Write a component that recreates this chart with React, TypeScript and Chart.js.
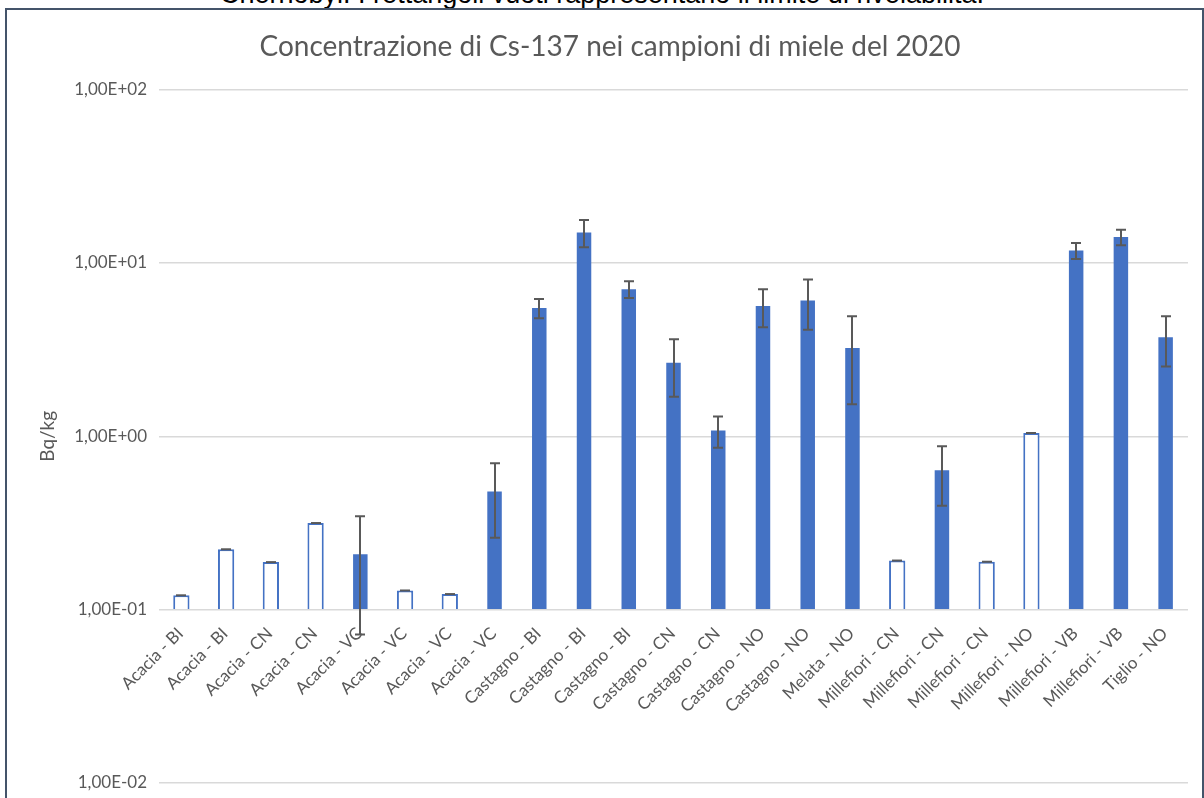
import React, { useEffect, useRef } from "react";
import { Chart, registerables } from "chart.js";

Chart.register(...registerables);

// Honey samples (type - province)
const categories = [
  "Acacia - BI", "Acacia - BI", "Acacia - CN", "Acacia - CN",
  "Acacia - VC", "Acacia - VC", "Acacia - VC", "Acacia - VC",
  "Castagno - BI", "Castagno - BI", "Castagno - BI",
  "Castagno - CN", "Castagno - CN", "Castagno - NO", "Castagno - NO",
  "Melata - NO",
  "Millefiori - CN", "Millefiori - CN", "Millefiori - CN", "Millefiori - NO",
  "Millefiori - VB", "Millefiori - VB", "Tiglio - NO",
];

// Cs-137 concentration, Bq/kg
const values = [
  0.121, 0.223, 0.188, 0.316,
  0.209, 0.129, 0.123, 0.48,
  5.5, 15.0, 7.05,
  2.66, 1.08, 5.65, 6.07,
  3.23,
  0.192, 0.637, 0.189, 1.045,
  11.8, 14.1, 3.73,
];

// Measurement uncertainty (0 where only the detection limit is given)
const errors = [
  0, 0, 0, 0,
  0.137, 0, 0, 0.22,
  0.7, 2.7, 0.78,
  0.97, 0.22, 1.4, 1.95,
  1.7,
  0, 0.24, 0, 0,
  1.25, 1.45, 1.2,
];

// true = value below detection limit (drawn as empty bar)
const belowLimit = [
  true, true, true, true,
  false, true, true, false,
  false, false, false,
  false, false, false, false,
  false,
  true, false, true, true,
  false, false, false,
];

const yTickValues = [0.01, 0.1, 1, 10, 100];
const yTickLabels = ["1,00E-02", "1,00E-01", "1,00E+00", "1,00E+01", "1,00E+02"];
const AXIS_CROSS = 0.1;

const TITLE = "Concentrazione di Cs-137 nei campioni di miele del 2020";
const Y_TITLE = "Bq/kg";
const CAPTION = "Chernobyl. I rettangoli vuoti rappresentano il limite di rivelabilità.";

const BLUE = "#4472C4";
const TEXT = "#595959";
const FONT = "Lato, 'Open Sans', sans-serif";

// Category labels hang below the 0.1 line, where the horizontal axis crosses
const categoryLabelsPlugin = {
  id: "categoryLabels",
  beforeDatasetsDraw(chart: any) {
    const { ctx, scales } = chart;
    const xs = scales.x;
    const axisY = scales.y.getPixelForValue(AXIS_CROSS);
    ctx.save();
    ctx.font = `17px ${FONT}`;
    ctx.fillStyle = TEXT;
    ctx.textAlign = "right";
    ctx.textBaseline = "middle";
    categories.forEach((c, i) => {
      const px = xs.getPixelForValue(i);
      ctx.save();
      ctx.translate(px - 1, axisY + 21);
      ctx.rotate(-Math.PI / 4);
      ctx.fillText(c, 0, 0);
      ctx.restore();
    });
    ctx.restore();
  },
};

// Symmetric error bars with caps
const errorBarsPlugin = {
  id: "errorBars",
  afterDatasetsDraw(chart: any) {
    const { ctx, scales } = chart;
    const ys = scales.y;
    const cap = 5;
    ctx.save();
    ctx.strokeStyle = "#595959";
    ctx.lineWidth = 2;
    chart.data.datasets.forEach((ds: any, di: number) => {
      const meta = chart.getDatasetMeta(di);
      meta.data.forEach((bar: any, i: number) => {
        const v = ds.data[i];
        if (v == null) return;
        const e = errors[i];
        const x = Math.round(bar.x);
        const top = ys.getPixelForValue(v + e);
        ctx.beginPath();
        if (e > 0) {
          const bot = ys.getPixelForValue(v - e);
          ctx.moveTo(x, top);
          ctx.lineTo(x, bot);
          ctx.moveTo(x - cap, bot);
          ctx.lineTo(x + cap, bot);
        }
        ctx.moveTo(x - cap, top);
        ctx.lineTo(x + cap, top);
        ctx.stroke();
      });
    });
    ctx.restore();
  },
};

export default function App() {
  const canvasRef = useRef<HTMLCanvasElement | null>(null);

  useEffect(() => {
    document.body.style.overflow = "hidden";
    const canvas = canvasRef.current;
    if (!canvas) return;

    const measured = values.map((v, i) => (belowLimit[i] ? null : v));
    const limits = values.map((v, i) => (belowLimit[i] ? v : null));

    const chart = new Chart(canvas, {
      type: "bar",
      data: {
        labels: categories,
        datasets: [
          {
            label: "Misurato",
            data: measured,
            backgroundColor: BLUE,
            borderWidth: 0,
            base: AXIS_CROSS,
            grouped: false,
            categoryPercentage: 1,
            barPercentage: 0.324,
          } as any,
          {
            label: "Limite di rivelabilità",
            data: limits,
            backgroundColor: "#FFFFFF",
            borderColor: BLUE,
            borderWidth: 2,
            base: AXIS_CROSS,
            grouped: false,
            categoryPercentage: 1,
            barPercentage: 0.364,
          } as any,
        ],
      },
      options: {
        responsive: false,
        animation: false,
        devicePixelRatio: 1,
        layout: { padding: { top: 0, left: 32, right: 16, bottom: 15 } },
        plugins: {
          legend: { display: false },
          tooltip: { enabled: false },
          title: {
            display: true,
            text: TITLE,
            color: TEXT,
            font: { family: FONT, size: 28, weight: "normal" },
            padding: { top: 30, bottom: 26 },
          },
        },
        scales: {
          x: {
            type: "category",
            display: false,
          },
          y: {
            type: "logarithmic",
            min: 0.01,
            max: 100,
            afterBuildTicks: (axis: any) => {
              axis.ticks = yTickValues.map((v) => ({ value: v }));
            },
            afterFit: (axis: any) => {
              axis.width = 127;
              axis.paddingTop = 0;
              axis.paddingBottom = 0;
            },
            ticks: {
              autoSkip: false,
              color: TEXT,
              padding: 12,
              font: { family: FONT, size: 17 },
              callback: (v: any) => {
                const k = yTickValues.indexOf(Number(v));
                return k >= 0 ? yTickLabels[k] : "";
              },
            },
            grid: { color: "#D9D9D9", lineWidth: 1.5, drawTicks: false },
            border: { display: false },
            title: {
              display: true,
              text: Y_TITLE,
              color: TEXT,
              font: { family: FONT, size: 19 },
              padding: { top: 4, bottom: 4 },
            },
          },
        },
      },
      plugins: [categoryLabelsPlugin, errorBarsPlugin],
    });

    return () => chart.destroy();
  }, []);

  return (
    <div>
      <div
        style={{
          position: "absolute",
          left: 0,
          top: -19,
          width: 1204,
          textAlign: "center",
          fontFamily: "'Liberation Sans', Arial, sans-serif",
          fontSize: 27,
          lineHeight: "27px",
          color: "#000",
          whiteSpace: "nowrap",
        }}
      >
        {CAPTION}
      </div>
      <div
        style={{
          position: "absolute",
          left: 5,
          top: 8,
          width: 1199,
          height: 790,
          borderLeft: "2px solid #44546A",
          borderTop: "2px solid #44546A",
          borderRight: "2px solid #44546A",
          boxSizing: "border-box",
          background: "#FFFFFF",
        }}
      />
      <canvas
        ref={canvasRef}
        width={1204}
        height={798}
        style={{ position: "absolute", left: 0, top: 0, width: 1204, height: 798 }}
      />
    </div>
  );
}
